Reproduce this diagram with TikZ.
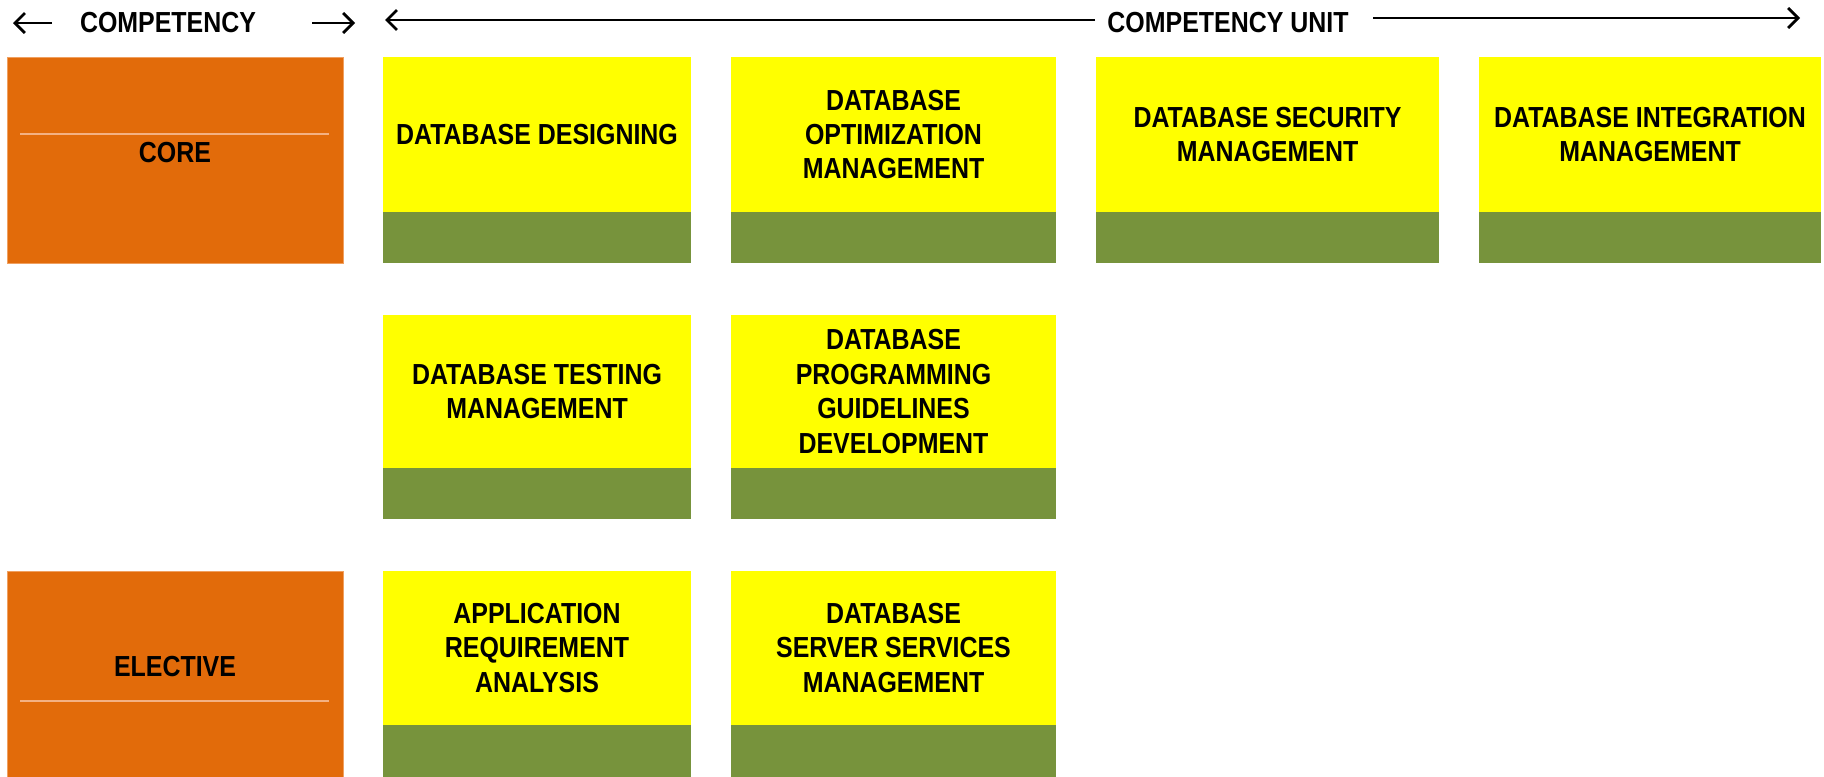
\documentclass[tikz,border=0pt]{standalone}
\usepackage{fontspec}
\setmainfont{Liberation Sans}[FakeStretch=0.86]
\usetikzlibrary{arrows.meta}
\definecolor{orng}{HTML}{E26B0A}
\definecolor{orngedge}{HTML}{F0A060}
\definecolor{peach}{HTML}{F4B183}
\definecolor{ylw}{HTML}{FFFF00}
\definecolor{grn}{HTML}{77933C}
\tikzset{
  utext/.style={align=center, font=\fontsize{14.5}{17.2}\selectfont\bfseries, inner sep=0pt},
  htext/.style={font=\fontsize{14.5}{17.2}\selectfont\bfseries, inner sep=0pt},
  harrow/.style={-{Straight Barb[length=5pt,width=10pt]}, line width=1.4pt},
  obox/.style={fill=orng, draw=orngedge, line width=0.5pt},
  divline/.style={draw=peach, line width=0.6pt}
}
\newcommand\cunit[7]{%
  \fill[ylw] (#2,#4) rectangle (#3,#5);
  \fill[grn] (#2,#5) rectangle (#3,#6);
  \node[utext] (#1) at ({(#2+#3)/2},{(#4+#5)/2}) {#7};}
\begin{document}
\begin{tikzpicture}[x=0.5pt,y=-0.5pt]
\useasboundingbox (0,0) rectangle (1824,776);
% header
\node[htext] (comp) at (168,23) {COMPETENCY};
\coordinate (compL0) at (52,23);
\coordinate (compL) at (13,23);
\coordinate (compR0) at (312,23);
\coordinate (compR) at (355,23);
\draw[harrow] (compL0) -- (compL);
\draw[harrow] (compR0) -- (compR);
\node[htext] (unit) at (1228,23) {COMPETENCY UNIT};
\coordinate (unitL0) at (1095,20);
\coordinate (unitL) at (385,20);
\coordinate (unitR0) at (1373,18);
\coordinate (unitR) at (1800,18);
\draw[harrow] (unitL0) -- (unitL);
\draw[harrow] (unitR0) -- (unitR);
% competency boxes
\fill[obox] (7,57) rectangle (343,263);
\draw[divline] (20,134) -- (329,134);
\node[htext] (core) at (175,152.5) {CORE};
\fill[obox] (7,571) rectangle (343,780);
\draw[divline] (20,701) -- (329,701);
\node[htext] (elective) at (175,666.5) {ELECTIVE};
% row 1
\cunit{u11}{383}{691}{57}{212}{263}{DATABASE DESIGNING}
\cunit{u12}{731}{1056}{57}{212}{263}{DATABASE\\OPTIMIZATION\\MANAGEMENT}
\cunit{u13}{1096}{1439}{57}{212}{263}{DATABASE SECURITY\\MANAGEMENT}
\cunit{u14}{1479}{1821}{57}{212}{263}{DATABASE INTEGRATION\\MANAGEMENT}
% row 2
\cunit{u21}{383}{691}{315}{468}{519}{DATABASE TESTING\\MANAGEMENT}
\cunit{u22}{731}{1056}{315}{468}{519}{DATABASE\\PROGRAMMING\\GUIDELINES\\DEVELOPMENT}
% row 3
\cunit{u31}{383}{691}{571}{725}{780}{APPLICATION\\REQUIREMENT\\ANALYSIS}
\cunit{u32}{731}{1056}{571}{725}{780}{DATABASE\\SERVER SERVICES\\MANAGEMENT}
\end{tikzpicture}
\end{document}
